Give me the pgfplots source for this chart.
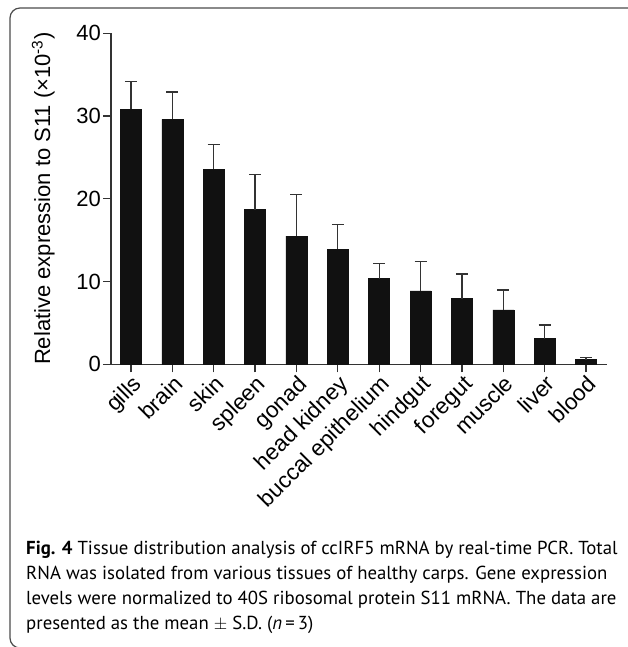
\documentclass[border=0pt]{standalone}
\usepackage{pgfplots}
\pgfplotsset{compat=1.18}
\usepackage{pgfplotstable}
\usepackage{fontspec}
\setmainfont{Liberation Sans}
\newfontfamily\capfont{PT Sans}

\definecolor{barfill}{HTML}{111111}
\definecolor{axisgray}{HTML}{333333}

% x  mean  sd   (relative expression, x 10^-3)
\pgfplotstableread{
x  y      e
0  30.8   3.4
1  29.6   3.3
2  23.6   3.0
3  18.7   4.2
4  15.5   5.0
5  13.9   3.0
6  10.35  1.85
7  8.86   3.54
8  7.93   2.97
9  6.57   2.41
10 3.10   1.65
11 0.56   0.29
}\tissuedata

\begin{document}
\begin{tikzpicture}[x=1pt,y=1pt]
\useasboundingbox (0,0) rectangle (627,647);
% outer frame
\draw[line width=1.2pt, color=black!70, rounded corners=10pt]
  (640,639) -- (10,639) -- (10,-1) -- (640,-1);

\begin{axis}[
  at={(111pt,282.7pt)}, anchor=south west,
  scale only axis, width=495.7pt, height=331pt,
  xmin=-0.483, xmax=11.5,
  ymin=0, ymax=40,
  axis x line*=bottom, axis y line*=left,
  axis line style={line width=1.3pt, color=axisgray},
  every tick/.style={line width=1.3pt, color=axisgray},
  tick align=outside, major tick length=8pt,
  xtick=data,
  xticklabels={gills,brain,skin,spleen,gonad,head kidney,buccal epithelium,hindgut,foregut,muscle,liver,blood},
  ytick={0,10,20,30,40},
  yticklabel style={font=\fontsize{22}{26}\selectfont, inner sep=2pt},
  /pgf/number format/assume math mode=true,
  xticklabel style={font=\fontsize{22.5}{26}\selectfont, rotate=45, anchor=north east, inner sep=1pt},
  ylabel={Relative expression to S11 (\texttimes10\textsuperscript{-3})},
  ylabel style={font=\fontsize{22}{26}\selectfont, at={(axis description cs:-0.113,0.5)}, anchor=south, inner sep=0pt},
  clip=false,
]
\addplot[ybar, bar width=21pt, fill=barfill, draw=barfill,
  error bars/.cd, y dir=plus, y explicit,
  error bar style={line width=1.3pt, color=axisgray},
  error mark options={rotate=90, mark size=6pt, line width=1.3pt, color=axisgray}]
  table[x=x, y=y, y error=e] {\tissuedata};
\end{axis}

\node[anchor=base west, inner sep=0, font=\capfont\fontsize{18.8}{22}\selectfont] at (26,92)
  {\textbf{Fig. 4} Tissue distribution analysis of ccIRF5 mRNA by real-time PCR. Total};
\node[anchor=base west, inner sep=0, font=\capfont\fontsize{18.8}{22}\selectfont] at (26,67)
  {RNA was isolated from various tissues of healthy carps. Gene expression};
\node[anchor=base west, inner sep=0, font=\capfont\fontsize{18.8}{22}\selectfont] at (26,42)
  {levels were normalized to 40S ribosomal protein S11 mRNA. The data are};
\node[anchor=base west, inner sep=0, font=\capfont\fontsize{18.8}{22}\selectfont] at (26,17)
  {presented as the mean $\pm$ S.D. (\textit{n}\,=\,3)};
\end{tikzpicture}
\end{document}
